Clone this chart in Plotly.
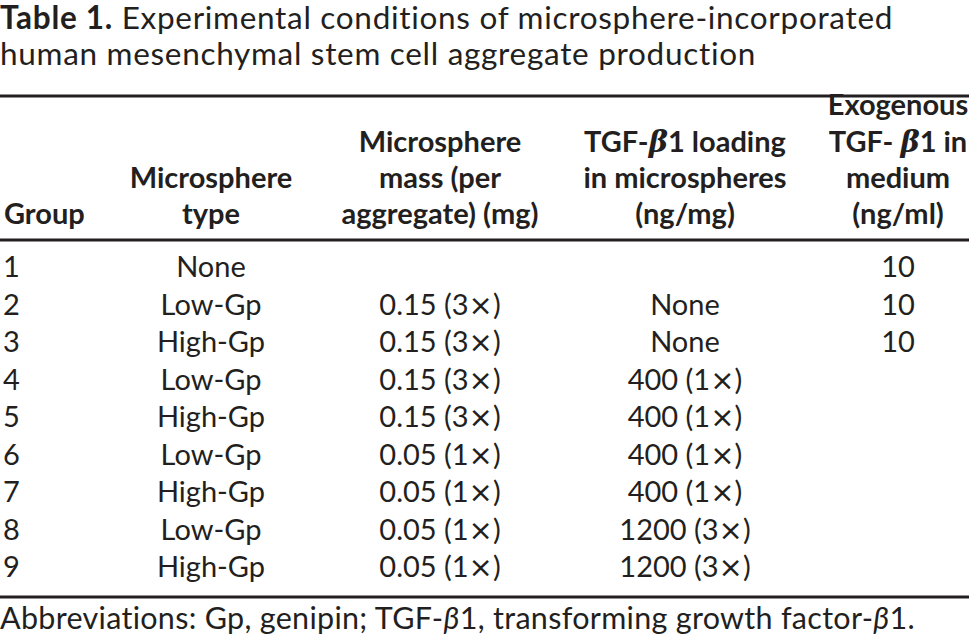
import plotly.graph_objects as go

groups = ["1", "2", "3", "4", "5", "6", "7", "8", "9"]
sphere_type = ["None", "Low-Gp", "High-Gp", "Low-Gp", "High-Gp",
               "Low-Gp", "High-Gp", "Low-Gp", "High-Gp"]
sphere_mass = ["", "0.15 (3×)", "0.15 (3×)", "0.15 (3×)", "0.15 (3×)",
               "0.05 (1×)", "0.05 (1×)", "0.05 (1×)", "0.05 (1×)"]
tgf_loading = ["", "None", "None", "400 (1×)", "400 (1×)",
               "400 (1×)", "400 (1×)", "1200 (3×)", "1200 (3×)"]
exo_tgf = ["10", "10", "10", "", "", "", "", "", ""]

beta = "<span style='font-family:DejaVu Serif'><i>β</i></span>"
headers = [
    ["Group"],
    ["Microsphere", "type"],
    ["Microsphere", "mass (per", "aggregate) (mg)"],
    ["TGF-" + beta + "1 loading", "in microspheres", "(ng/mg)"],
    ["Exogenous", "TGF- " + beta + "1 in", "medium", "(ng/ml)"],
]

title_lines = ["<b>Table 1.</b> Experimental conditions of microsphere-incorporated",
               "human mesenchymal stem cell aggregate production"]
footnote = "Abbreviations: Gp, genipin; TGF-<i>β</i>1, transforming growth factor-<i>β</i>1."


def fmt(s):
    # wider multiplication sign, as in the reference
    return s.replace("×", "<span style='font-family:DejaVu Sans'>×</span>")


def spaced(s, px):
    return "<span style='letter-spacing:%spx'>%s</span>" % (px, s)


# layout (page-pixel axes)
W, H = 969, 638
FONT = "Lato"
col_x = [3, 211, 440, 685, 898]
col_anchor = ["left", "center", "center", "center", "center"]
row0, row_step = 270, 37.5
head_bottom, head_step = 217, 36.3
fs = 29
ink = "#231f20"

columns = [groups, sphere_type, sphere_mass, tgf_loading, exo_tgf]
fig = go.Figure()

for c, vals in enumerate(columns):
    pos = "middle right" if col_anchor[c] == "left" else "middle center"
    fig.add_trace(go.Scatter(
        x=[col_x[c]] * len(vals),
        y=[row0 + i * row_step for i in range(len(vals))],
        text=[fmt(v) for v in vals], mode="text", textposition=pos,
        textfont=dict(family=FONT, size=fs, color=ink),
        hoverinfo="skip", showlegend=False, cliponaxis=False,
    ))
    lines = headers[c]
    n = len(lines)
    fig.add_trace(go.Scatter(
        x=[col_x[c] + (1 if c == 0 else 0)] * n,
        y=[head_bottom - (n - 1 - k) * head_step for k in range(n)],
        text=["<b>" + t + "</b>" for t in lines], mode="text", textposition=pos,
        textfont=dict(family=FONT, size=fs, color=ink),
        hoverinfo="skip", showlegend=False, cliponaxis=False,
    ))

fig.add_trace(go.Scatter(
    x=[0, 0, 0], y=[21.5, 57, 621],
    text=[spaced(t, 0.7) for t in title_lines] + [spaced(footnote, 0.3)],
    mode="text", textposition="middle right",
    textfont=dict(family=FONT, size=[31.5, 31.5, 30.5], color=ink),
    hoverinfo="skip", showlegend=False, cliponaxis=False,
))

for yy in [96, 240, 597]:
    fig.add_shape(type="line", x0=0, x1=W, y0=yy, y1=yy,
                  line=dict(color=ink, width=3))

fig.update_layout(
    width=W, height=H,
    margin=dict(l=0, r=0, t=0, b=0),
    paper_bgcolor="white", plot_bgcolor="white",
    xaxis=dict(range=[0, W], visible=False, fixedrange=True),
    yaxis=dict(range=[H, 0], visible=False, fixedrange=True),
)

fig.write_html("out.html", config={"displayModeBar": False},
               post_script="document.body.style.margin='0';")
